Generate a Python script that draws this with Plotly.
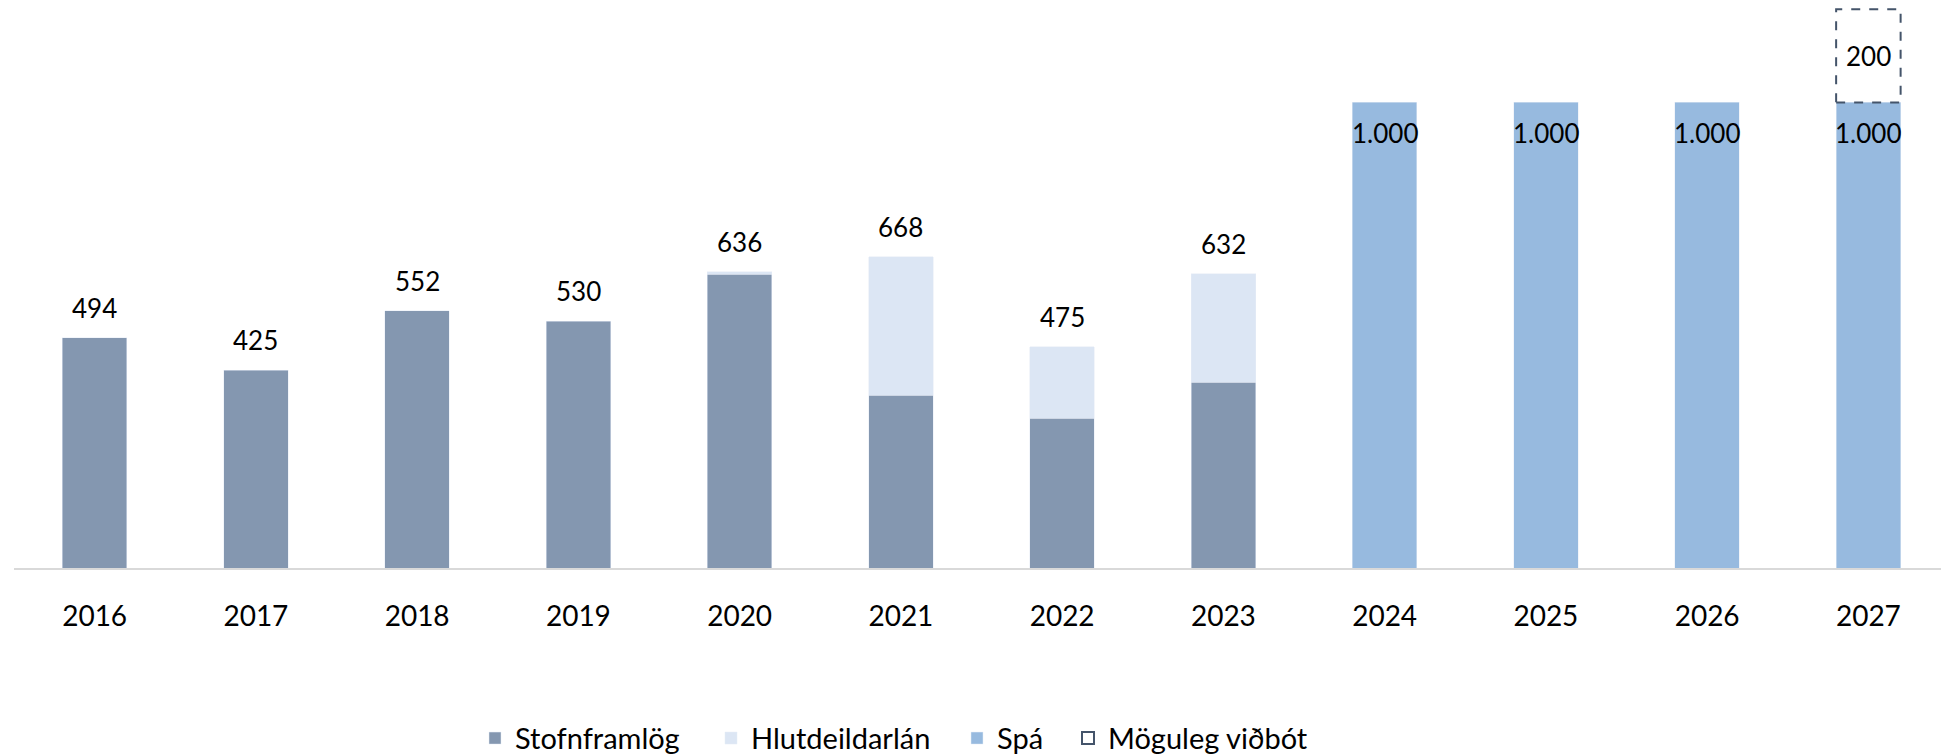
import plotly.graph_objects as go

years = ["2016", "2017", "2018", "2019", "2020", "2021", "2022", "2023",
         "2024", "2025", "2026", "2027"]
stofnframlog = [494, 425, 552, 530, 631, 371, 322, 399, None, None, None, None]
hlutdeildarlan = [None, None, None, None, 5, 297, 153, 233, None, None, None, None]
spa = [None, None, None, None, None, None, None, None, 1000, 1000, 1000, 1000]
vidbot = [None, None, None, None, None, None, None, None, None, None, None, 200]

DARK = "#8497B0"
LIGHT = "#DCE6F4"
SPA = "#97BADF"
BOX = "#44546A"
FONT = "Lato"
BAR_W = 0.4

L_MARGIN = 6
PLOT_W = 1941 - L_MARGIN


def fmt(v):
    return f"{v:,}".replace(",", ".")


def leg_x(px):
    # px = vinstri brún skýringar í pixlum á síðunni
    return (px - 8 - L_MARGIN) / PLOT_W


fig = go.Figure()
fig.add_trace(go.Bar(x=years, y=stofnframlog, name="Stofnframlög",
                     marker_color=DARK, width=BAR_W, legend="legend"))
fig.add_trace(go.Bar(x=years, y=hlutdeildarlan, name="Hlutdeildarlán",
                     marker_color=LIGHT, width=BAR_W, legend="legend2"))
fig.add_trace(go.Bar(x=years, y=spa, name="Spá",
                     marker_color=SPA, width=BAR_W, legend="legend3"))

annotations = []
# heildartölur fyrir ofan súlur (x sem vísir, flokkaás)
for i, yr in enumerate(years):
    s = (stofnframlog[i] or 0) + (hlutdeildarlan[i] or 0)
    if s:
        annotations.append(dict(x=i, y=s, text=fmt(s), showarrow=False,
                                yanchor="bottom", yshift=12,
                                font=dict(size=26, color="black", family=FONT)))
    if spa[i]:
        annotations.append(dict(x=i, y=spa[i], text=fmt(spa[i]), showarrow=False,
                                yanchor="middle", yshift=-31,
                                font=dict(size=26, color="black", family=FONT)))
    if vidbot[i]:
        base = spa[i] or 0
        annotations.append(dict(x=i, y=base + vidbot[i] / 2, text=fmt(vidbot[i]),
                                showarrow=False, yanchor="middle",
                                font=dict(size=26, color="black", family=FONT)))
        fig.add_shape(type="rect", xref="x", yref="y",
                      x0=i - BAR_W / 2, x1=i + BAR_W / 2,
                      y0=base, y1=base + vidbot[i],
                      line=dict(color=BOX, width=2, dash="dash"),
                      fillcolor="rgba(0,0,0,0)",
                      showlegend=True, name="Möguleg viðbót", legend="legend4")

leg_common = dict(orientation="h", xanchor="left", y=-0.304, yanchor="middle",
                  font=dict(size=29, family=FONT), itemwidth=30,
                  bgcolor="rgba(0,0,0,0)")

# síðan hefur 8px spássíu í body, því er myndin minnkuð um það
fig.update_layout(
    barmode="stack",
    width=1941, height=747,
    margin=dict(l=L_MARGIN, r=0, t=0, b=187, autoexpand=False),
    plot_bgcolor="white", paper_bgcolor="white",
    font=dict(family=FONT, color="black"),
    annotations=annotations,
    showlegend=True,
    legend=dict(x=leg_x(475), **leg_common),
    legend2=dict(x=leg_x(711), **leg_common),
    legend3=dict(x=leg_x(957), **leg_common),
    legend4=dict(x=leg_x(1068), **leg_common),
    xaxis=dict(type="category", range=[-0.5, len(years) - 0.5],
               showline=True, linecolor="#D9D9D9", linewidth=2,
               showgrid=False, ticks="", tickfont=dict(size=28, family=FONT),
               ticklabelstandoff=22),
    yaxis=dict(visible=False, range=[0, 1202.7], showgrid=False),
)

fig.write_html("out.html")
